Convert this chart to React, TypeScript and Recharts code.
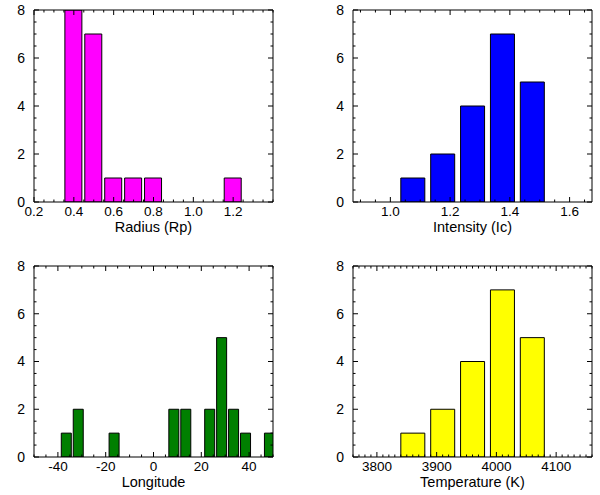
import React from 'react';
import { BarChart, Bar, XAxis, YAxis } from 'recharts';

// ---- data ----
const radiusBins = [0.4, 0.5, 0.6, 0.7, 0.8, 1.2];
const radiusCounts = [8, 7, 1, 1, 1, 1];

const intensityBins = [1.075, 1.175, 1.275, 1.375, 1.475];
const intensityCounts = [1, 2, 4, 7, 5];

const longitudeBins = [-36.5, -31.5, -16.5, 8.5, 13.5, 23.5, 28.5, 33.5, 38.5, 48.5];
const longitudeCounts = [1, 2, 1, 2, 2, 2, 5, 2, 1, 1];

const temperatureBins = [3860, 3910, 3960, 4010, 4060];
const temperatureCounts = [1, 2, 4, 7, 5];

// ---- ticks ----
const radiusTicks = [0.2, 0.4, 0.6, 0.8, 1.0, 1.2];
const intensityTicks = [1.0, 1.2, 1.4, 1.6];
const longitudeTicks = [-40, -20, 0, 20, 40];
const temperatureTicks = [3800, 3900, 4000, 4100];
const countTicks = [0, 2, 4, 6, 8];

const FONT = '"Liberation Sans", Arial, Helvetica, sans-serif';

function minorList(d0: number, d1: number, step: number): number[] {
  const out: number[] = [];
  const start = Math.ceil(d0 / step - 1e-9);
  const end = Math.floor(d1 / step + 1e-9);
  for (let i = start; i <= end; i++) out.push(Math.round(i * step * 1e6) / 1e6);
  return out;
}

function isMajor(v: number, majors: number[], step: number) {
  return majors.some((m) => Math.abs(m - v) < step / 10);
}

type PanelProps = {
  left: number;
  top: number;
  height: number;
  plot: { top: number; left: number; right: number; bottom: number };
  bins: number[];
  counts: number[];
  domain: [number, number];
  majors: number[];
  minorStep: number;
  fmt: (v: number) => string;
  color: string;
  barSize: number;
  title: string;
};

function Panel(p: PanelProps) {
  const data = p.bins.map((x, i) => ({ x, y: p.counts[i] }));
  const xTicks = minorList(p.domain[0], p.domain[1], p.minorStep);
  const yTicks = minorList(0, 8, 0.5);
  const MAJ = 5;
  const MIN = 2.5;
  const margin = {
    top: p.plot.top - 1,
    left: p.plot.left - 1,
    right: p.plot.right - 1,
    bottom: p.plot.bottom - 1,
  };

  const bottomTick = (props: any) => {
    const { x, y, payload } = props;
    const major = isMajor(payload.value, p.majors, p.minorStep);
    return (
      <g>
        <line x1={x} x2={x} y1={y} y2={y - (major ? MAJ : MIN)} stroke="#000" strokeWidth={1} />
        {major && (
          <text x={x} y={y + 9.5} dy="0.35em" textAnchor="middle" fontSize={13.5} fontFamily={FONT} fill="#000">
            {p.fmt(payload.value)}
          </text>
        )}
      </g>
    );
  };
  const topTick = (props: any) => {
    const { x, y, payload } = props;
    const major = isMajor(payload.value, p.majors, p.minorStep);
    return <line x1={x} x2={x} y1={y} y2={y + (major ? MAJ : MIN)} stroke="#000" strokeWidth={1} />;
  };
  const leftTick = (props: any) => {
    const { x, y, payload } = props;
    const major = isMajor(payload.value, countTicks, 0.5);
    return (
      <g>
        <line x1={x} x2={x + (major ? MAJ : MIN)} y1={y} y2={y} stroke="#000" strokeWidth={1} />
        {major && (
          <text x={x - 9} y={y} dy="0.35em" textAnchor="end" fontSize={14} fontFamily={FONT} fill="#000">
            {String(payload.value)}
          </text>
        )}
      </g>
    );
  };
  const rightTick = (props: any) => {
    const { x, y, payload } = props;
    const major = isMajor(payload.value, countTicks, 0.5);
    return <line x1={x} x2={x - (major ? MAJ : MIN)} y1={y} y2={y} stroke="#000" strokeWidth={1} />;
  };

  return (
    <div style={{ position: 'absolute', left: p.left, top: p.top, width: 300, height: p.height }}>
      <BarChart width={300} height={p.height} data={data} margin={margin}>
        <XAxis
          xAxisId="bar"
          dataKey="x"
          type="number"
          domain={p.domain}
          allowDataOverflow
          ticks={p.majors}
          hide
        />
        <XAxis
          xAxisId="b"
          dataKey="x"
          type="number"
          orientation="bottom"
          domain={p.domain}
          allowDataOverflow
          ticks={xTicks}
          interval={0}
          height={1}
          tickSize={0}
          tickMargin={0}
          tickLine={false}
          tick={bottomTick}
          axisLine={{ stroke: '#000', strokeWidth: 1 }}
          label={{ value: p.title, position: 'bottom', offset: 19, fill: '#000', fontSize: 14.5, fontFamily: FONT }}
        />
        <XAxis
          xAxisId="t"
          dataKey="x"
          type="number"
          orientation="top"
          domain={p.domain}
          allowDataOverflow
          ticks={xTicks}
          interval={0}
          height={1}
          tickSize={0}
          tickMargin={0}
          tickLine={false}
          tick={topTick}
          axisLine={{ stroke: '#000', strokeWidth: 1 }}
        />
        <YAxis
          yAxisId="l"
          dataKey="y"
          type="number"
          orientation="left"
          domain={[0, 8]}
          allowDataOverflow
          ticks={yTicks}
          interval={0}
          width={1}
          tickSize={0}
          tickMargin={0}
          tickLine={false}
          tick={leftTick}
          axisLine={{ stroke: '#000', strokeWidth: 1 }}
        />
        <YAxis
          yAxisId="r"
          dataKey="y"
          type="number"
          orientation="right"
          domain={[0, 8]}
          allowDataOverflow
          ticks={yTicks}
          interval={0}
          width={1}
          tickSize={0}
          tickMargin={0}
          tickLine={false}
          tick={rightTick}
          axisLine={{ stroke: '#000', strokeWidth: 1 }}
        />
        <Bar
          xAxisId="bar"
          yAxisId="l"
          dataKey="y"
          fill={p.color}
          stroke="#000"
          strokeWidth={1}
          barSize={p.barSize}
          isAnimationActive={false}
        />
      </BarChart>
    </div>
  );
}

export default function App() {
  return (
    <div style={{ position: 'absolute', left: 0, top: 0, width: 600, height: 495, background: '#fff', overflow: 'hidden' }}>
      <Panel
        left={0}
        top={0}
        height={248}
        plot={{ top: 10, left: 34, right: 27, bottom: 46 }}
        bins={radiusBins}
        counts={radiusCounts}
        domain={[0.2, 1.4]}
        majors={radiusTicks}
        minorStep={0.05}
        fmt={(v) => v.toFixed(1)}
        color="#FF00FF"
        barSize={17}
        title="Radius (Rp)"
      />
      <Panel
        left={300}
        top={0}
        height={248}
        plot={{ top: 10, left: 53, right: 8, bottom: 46 }}
        bins={intensityBins}
        counts={intensityCounts}
        domain={[0.875, 1.675]}
        majors={intensityTicks}
        minorStep={0.05}
        fmt={(v) => v.toFixed(1)}
        color="#0000FF"
        barSize={24}
        title="Intensity (Ic)"
      />
      <Panel
        left={0}
        top={248}
        height={247}
        plot={{ top: 18, left: 34, right: 27, bottom: 38 }}
        bins={longitudeBins}
        counts={longitudeCounts}
        domain={[-50, 50]}
        majors={longitudeTicks}
        minorStep={5}
        fmt={(v) => String(v)}
        color="#007F00"
        barSize={10}
        title="Longitude"
      />
      <Panel
        left={300}
        top={248}
        height={247}
        plot={{ top: 18, left: 53, right: 8, bottom: 38 }}
        bins={temperatureBins}
        counts={temperatureCounts}
        domain={[3760, 4160]}
        majors={temperatureTicks}
        minorStep={10}
        fmt={(v) => String(v)}
        color="#FFFF00"
        barSize={24}
        title="Temperature (K)"
      />
    </div>
  );
}
